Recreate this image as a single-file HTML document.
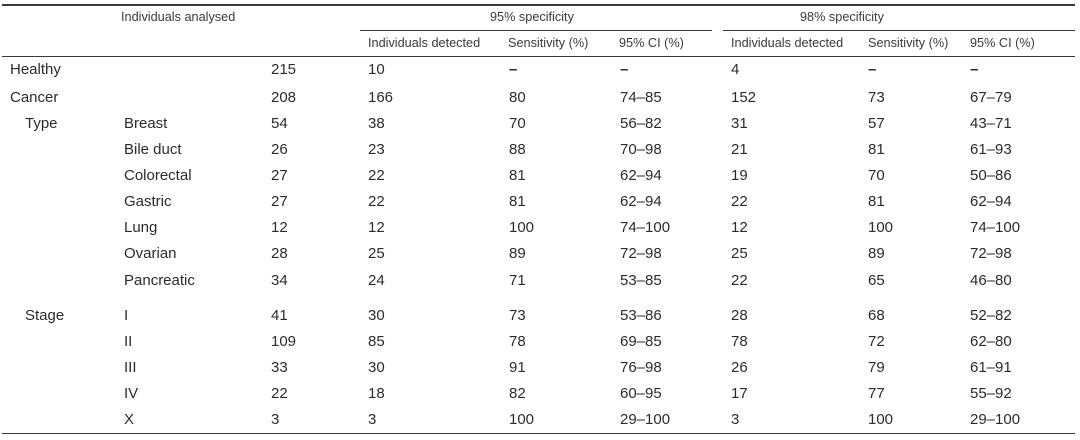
<!DOCTYPE html>
<html>
<head>
<meta charset="utf-8">
<style>
  html,body{margin:0;padding:0;background:#fff;}
  body{width:1080px;height:440px;position:relative;overflow:hidden;
       font-family:"Liberation Sans",Arial,sans-serif;color:#2b2b2b;}
  .ln{position:absolute;background:#3a3a3a;}
  .h{position:absolute;font-size:12.7px;line-height:16px;color:#3a3a3a;white-space:nowrap;}
  .r{position:absolute;left:0;width:1080px;height:20px;font-size:15px;line-height:20px;}
  .r span{position:absolute;top:0;white-space:nowrap;}
  .r span.d{font-weight:bold;}
  .c0{left:10px}.c0i{left:25px}.c1{left:124px}.c2{left:271px}.c3{left:368px}
  .c4{left:509px}.c5{left:620px}.c6{left:731px}.c7{left:868px}.c8{left:970px}
</style>
</head>
<body>
<!-- lines -->
<div class="ln" style="left:2px;top:4px;width:1073px;height:1.5px;"></div>
<div class="ln" style="left:360px;top:30px;width:352px;height:1.2px;"></div>
<div class="ln" style="left:723px;top:30px;width:352px;height:1.2px;"></div>
<div class="ln" style="left:2px;top:55.5px;width:1073px;height:1.5px;"></div>
<div class="ln" style="left:2px;top:432.5px;width:1073px;height:1.5px;"></div>

<!-- header -->
<div class="h" style="left:121px;top:9px;">Individuals analysed</div>
<div class="h" style="left:490px;top:9px;">95% specificity</div>
<div class="h" style="left:800px;top:9px;">98% specificity</div>
<div class="h" style="left:368px;top:35px;">Individuals detected</div>
<div class="h" style="left:508px;top:35px;">Sensitivity (%)</div>
<div class="h" style="left:619px;top:35px;">95% CI (%)</div>
<div class="h" style="left:731px;top:35px;">Individuals detected</div>
<div class="h" style="left:868px;top:35px;">Sensitivity (%)</div>
<div class="h" style="left:970px;top:35px;">95% CI (%)</div>

<!-- rows -->
<div class="r" style="top:60px"><span class="c0">Healthy</span><span class="c2">215</span><span class="c3">10</span><span class="c4 d">–</span><span class="c5 d">–</span><span class="c6">4</span><span class="c7 d">–</span><span class="c8 d">–</span></div>
<div class="r" style="top:87.5px"><span class="c0">Cancer</span><span class="c2">208</span><span class="c3">166</span><span class="c4">80</span><span class="c5">74–85</span><span class="c6">152</span><span class="c7">73</span><span class="c8">67–79</span></div>
<div class="r" style="top:114px"><span class="c0i">Type</span><span class="c1">Breast</span><span class="c2">54</span><span class="c3">38</span><span class="c4">70</span><span class="c5">56–82</span><span class="c6">31</span><span class="c7">57</span><span class="c8">43–71</span></div>
<div class="r" style="top:140px"><span class="c1">Bile duct</span><span class="c2">26</span><span class="c3">23</span><span class="c4">88</span><span class="c5">70–98</span><span class="c6">21</span><span class="c7">81</span><span class="c8">61–93</span></div>
<div class="r" style="top:166px"><span class="c1">Colorectal</span><span class="c2">27</span><span class="c3">22</span><span class="c4">81</span><span class="c5">62–94</span><span class="c6">19</span><span class="c7">70</span><span class="c8">50–86</span></div>
<div class="r" style="top:192px"><span class="c1">Gastric</span><span class="c2">27</span><span class="c3">22</span><span class="c4">81</span><span class="c5">62–94</span><span class="c6">22</span><span class="c7">81</span><span class="c8">62–94</span></div>
<div class="r" style="top:218px"><span class="c1">Lung</span><span class="c2">12</span><span class="c3">12</span><span class="c4">100</span><span class="c5">74–100</span><span class="c6">12</span><span class="c7">100</span><span class="c8">74–100</span></div>
<div class="r" style="top:244px"><span class="c1">Ovarian</span><span class="c2">28</span><span class="c3">25</span><span class="c4">89</span><span class="c5">72–98</span><span class="c6">25</span><span class="c7">89</span><span class="c8">72–98</span></div>
<div class="r" style="top:270.5px"><span class="c1">Pancreatic</span><span class="c2">34</span><span class="c3">24</span><span class="c4">71</span><span class="c5">53–85</span><span class="c6">22</span><span class="c7">65</span><span class="c8">46–80</span></div>
<div class="r" style="top:306px"><span class="c0i">Stage</span><span class="c1">I</span><span class="c2">41</span><span class="c3">30</span><span class="c4">73</span><span class="c5">53–86</span><span class="c6">28</span><span class="c7">68</span><span class="c8">52–82</span></div>
<div class="r" style="top:332px"><span class="c1">II</span><span class="c2">109</span><span class="c3">85</span><span class="c4">78</span><span class="c5">69–85</span><span class="c6">78</span><span class="c7">72</span><span class="c8">62–80</span></div>
<div class="r" style="top:358px"><span class="c1">III</span><span class="c2">33</span><span class="c3">30</span><span class="c4">91</span><span class="c5">76–98</span><span class="c6">26</span><span class="c7">79</span><span class="c8">61–91</span></div>
<div class="r" style="top:384px"><span class="c1">IV</span><span class="c2">22</span><span class="c3">18</span><span class="c4">82</span><span class="c5">60–95</span><span class="c6">17</span><span class="c7">77</span><span class="c8">55–92</span></div>
<div class="r" style="top:410px"><span class="c1">X</span><span class="c2">3</span><span class="c3">3</span><span class="c4">100</span><span class="c5">29–100</span><span class="c6">3</span><span class="c7">100</span><span class="c8">29–100</span></div>
</body>
</html>
